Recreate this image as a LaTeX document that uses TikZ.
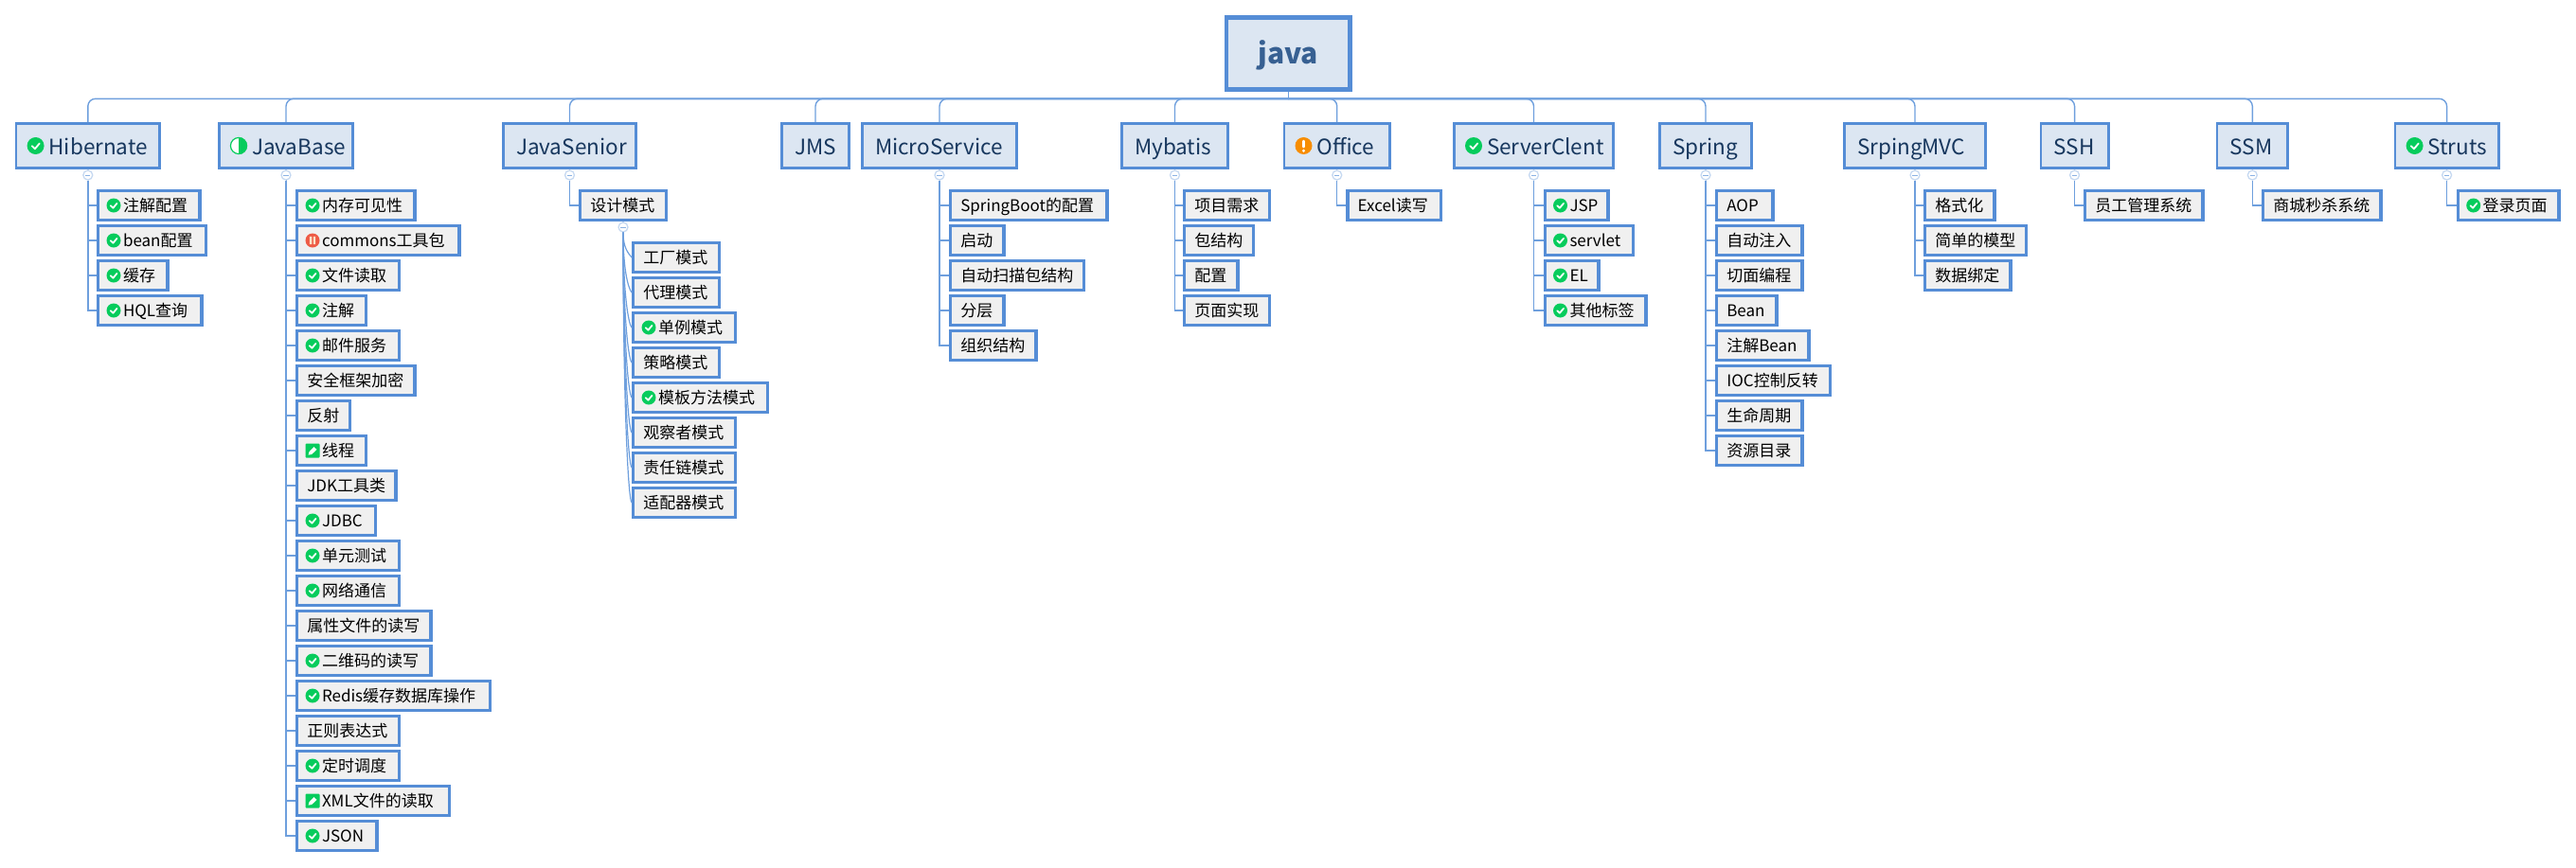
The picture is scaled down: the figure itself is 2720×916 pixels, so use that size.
\documentclass[tikz,border=0pt]{standalone}
\usepackage{fontspec}
\setmainfont{Noto Sans CJK SC}
\usetikzlibrary{calc}
\definecolor{bd}{HTML}{558DD6}
\definecolor{cn}{HTML}{6E9FDD}
\definecolor{tfill}{HTML}{DCE6F2}
\definecolor{sfill}{HTML}{F0F0F0}
\definecolor{ttext}{HTML}{17375E}
\definecolor{rtext}{HTML}{376092}
\definecolor{okg}{HTML}{06CC5C}
\definecolor{foldc}{HTML}{C6D9F1}
\tikzset{
  x=1pt,y=-1pt,
  rootbox/.style={draw=bd,fill=tfill,line width=4.7pt,inner sep=0pt,text=rtext,minimum width=130.3pt,minimum height=76pt,font=\fontsize{30}{36}\selectfont\bfseries,text height=28pt,text depth=6.8pt},
  topbox/.style={draw=bd,fill=tfill,line width=2.8pt,inner sep=0pt,text=ttext,minimum height=47.2pt,font=\fontsize{22.5}{28}\selectfont,text height=22pt,text depth=4pt},
  subbox/.style={draw=bd,fill=sfill,line width=3.3pt,inner sep=0pt,text=black,minimum height=30.7pt,font=\fontsize{17}{20}\selectfont,text height=15pt,text depth=3pt},
  conn/.style={draw=cn,line width=1.4pt},
  fold/.style={circle,draw=foldc,fill=white,line width=1.3pt,inner sep=0pt,minimum size=10pt},
  checkicon/.pic={\fill[okg] (0,0) circle (1);
    \draw[white,line width=1.8pt,line cap=round,line join=round] (-.42,.02) -- (-.08,.36) -- (.46,-.28);},
  pauseicon/.pic={\fill[HTML={EE5A45}] (0,0) circle (1);
    \fill[HTML={FBE3C8}] (-.42,-.55) rectangle (-.1,.55) (.1,-.55) rectangle (.42,.55);},
  penicon/.pic={\fill[okg,rounded corners=1pt] (-1,-1) rectangle (1,1);
    \fill[white] (-.58,.62) -- (-.48,.18) -- (.2,-.52) -- (.6,-.14) -- (-.1,.52) -- cycle;},
  halficon/.pic={\fill[white] (0,0) circle (1);
    \fill[okg] (0,-1) arc (-90:90:1) -- cycle;
    \draw[okg,line width=1.2pt] (0,0) circle (.95);},
  warnicon/.pic={\fill[HTML={F78D00}] (0,0) circle (1);
    \draw[white,line width=2.6pt,line cap=round] (0,-.55) -- (0,.12);
    \fill[white] (0,.58) circle (.18);},
  HTML/.code={\definecolor{tmpc}{HTML}{#1}\pgfkeysalso{color=tmpc}},
}
\newcommand{\tnode}[5]{% name, left, right, icon, text
  \pgfmathsetmacro\bw{#3-#2-2.8}
  \def\tempa{#4}
  \ifx\tempa\empty\def\pad{15}\else\def\pad{36}\fi
  \node[topbox,minimum width=\bw pt] (#1) at ({(#2+#3)/2},154) {\makebox[\bw pt][l]{\hspace{\pad pt}\hspace{-1.4pt}#5}};
  \ifx\tempa\empty\else\pic[scale=9] at ($(#1.west)+(22,0)$) {#4};\fi
  \draw[conn,rounded corners=8pt] (busroot) -| (#1.north);
}
\newcommand{\foldmark}[1]{%
  \node[fold] (#1f) at ($(#1.south)+(0,6)$) {};
  \draw[conn,foldc] (#1.south) -- (#1f.north);
  \draw[cn!80,line width=1pt] ($(#1f.center)+(-2.6,0)$) -- ($(#1f.center)+(2.6,0)$);
}
\newcommand{\snodebox}[6]{% name, left, right, top, icon, text
  \pgfmathsetmacro\bw{#3-#2-3.3}
  \def\tempa{#5}
  \ifx\tempa\empty\def\pad{12.3}\else\def\pad{28}\fi
  \node[subbox,minimum width=\bw pt] (#1) at ({(#2+#3)/2},{#4+17}) {\makebox[\bw pt][l]{\hspace{\pad pt}\hspace{-1.65pt}#6}};
  \ifx\tempa\empty\else\pic[scale=7.5] at ($(#1.west)+(18,0)$) {#5};\fi
}
\newcommand{\snode}[7]{% parent, name, left, right, top, icon, text
  \snodebox{#2}{#3}{#4}{#5}{#6}{#7}
  \draw[conn] (#1f.south) |- (#2.west);
}
\newcommand{\fnode}[7]{% parent, name, left, right, top, icon, text (curved link)
  \snodebox{#2}{#3}{#4}{#5}{#6}{#7}
  \draw[conn,line width=1.2pt] (#1f.south) .. controls ($(#1f.south)!.6!(#1f.south |- #2.west)$) and ($(#2.west)+(-4,-5)$) .. (#2.west);
}
\begin{document}
\begin{tikzpicture}
\useasboundingbox (0,0) rectangle (2720,916);
\node[rootbox] (root) at (1360.2,56.4) {java};
\coordinate (busroot) at (1360.2,104.3);
\draw[conn] (root.south) -- (busroot);

\tnode{hib}{15.6}{170}{checkicon}{Hibernate}
\tnode{jb}{230}{374}{halficon}{JavaBase}
\tnode{js}{530}{673}{}{JavaSenior}
\tnode{jms}{824}{898}{}{JMS}
\tnode{ms}{909}{1075}{}{MicroService}
\tnode{my}{1183}{1298}{}{Mybatis}
\tnode{of}{1354.5}{1469}{warnicon}{Office}
\tnode{sc}{1534}{1705}{checkicon}{ServerClent}
\tnode{sp}{1751}{1851}{}{Spring}
\tnode{mvc}{1946}{2098}{}{SrpingMVC}
\tnode{ssh}{2153.5}{2227.6}{}{SSH}
\tnode{ssm}{2339.6}{2417}{}{SSM}
\tnode{st}{2527.6}{2639.6}{checkicon}{Struts}

\foldmark{hib}\foldmark{jb}\foldmark{js}\foldmark{ms}\foldmark{my}\foldmark{of}\foldmark{sc}\foldmark{sp}\foldmark{mvc}\foldmark{ssh}\foldmark{ssm}\foldmark{st}

\snode{hib}{h1}{102}{212.5}{200}{checkicon}{注解配置}
\snode{hib}{h2}{102}{218.8}{237}{checkicon}{bean配置}
\snode{hib}{h3}{102}{178.6}{274}{checkicon}{缓存}
\snode{hib}{h4}{102}{214.7}{311}{checkicon}{HQL查询}

\snode{jb}{b1}{312}{439.7}{200}{checkicon}{内存可见性}
\snode{jb}{b2}{312}{486.6}{237}{pauseicon}{commons工具包}
\snode{jb}{b3}{312}{422.8}{274}{checkicon}{文件读取}
\snode{jb}{b4}{312}{388.4}{311}{checkicon}{注解}
\snode{jb}{b5}{312}{422.8}{348}{checkicon}{邮件服务}
\snode{jb}{b6}{312}{439.7}{385}{}{安全框架加密}
\snode{jb}{b7}{312}{371.4}{422}{}{反射}
\snode{jb}{b8}{312}{388.4}{459}{penicon}{线程}
\snode{jb}{b9}{312}{419.6}{496}{}{JDK工具类}
\snode{jb}{b10}{312}{397.8}{533}{checkicon}{JDBC}
\snode{jb}{b11}{312}{422.8}{570}{checkicon}{单元测试}
\snode{jb}{b12}{312}{422.8}{607}{checkicon}{网络通信}
\snode{jb}{b13}{312}{456.7}{644}{}{属性文件的读写}
\snode{jb}{b14}{312}{456.7}{681}{checkicon}{二维码的读写}
\snode{jb}{b15}{312}{518.8}{718}{checkicon}{Redis缓存数据库操作}
\snode{jb}{b16}{312}{422.8}{755}{}{正则表达式}
\snode{jb}{b17}{312}{422.8}{792}{checkicon}{定时调度}
\snode{jb}{b18}{312}{476.3}{829}{penicon}{XML文件的读取}
\snode{jb}{b19}{312}{399.6}{866}{checkicon}{JSON}

\snode{js}{d0}{611}{705}{200}{}{设计模式}
\foldmark{d0}
\fnode{d0}{d1}{667}{761}{255}{}{工厂模式}
\fnode{d0}{d2}{667}{761}{292}{}{代理模式}
\fnode{d0}{d3}{667}{778}{329}{checkicon}{单例模式}
\fnode{d0}{d4}{667}{761}{366}{}{策略模式}
\fnode{d0}{d5}{667}{812}{403}{checkicon}{模板方法模式}
\fnode{d0}{d6}{667}{778}{440}{}{观察者模式}
\fnode{d0}{d7}{667}{778}{477}{}{责任链模式}
\fnode{d0}{d8}{667}{778}{514}{}{适配器模式}

\snode{ms}{m1}{1002}{1170.5}{200}{}{SpringBoot的配置}
\snode{ms}{m2}{1002}{1061.6}{237}{}{启动}
\snode{ms}{m3}{1002}{1146.4}{274}{}{自动扫描包结构}
\snode{ms}{m4}{1002}{1061.6}{311}{}{分层}
\snode{ms}{m5}{1002}{1095.5}{348}{}{组织结构}

\snode{my}{y1}{1249}{1342.4}{200}{}{项目需求}
\snode{my}{y2}{1249}{1325.4}{237}{}{包结构}
\snode{my}{y3}{1249}{1308.5}{274}{}{配置}
\snode{my}{y4}{1249}{1342.4}{311}{}{页面实现}

\snode{of}{o1}{1421.4}{1522.8}{200}{}{Excel读写}

\snode{sc}{c1}{1629.5}{1699.5}{200}{checkicon}{JSP}
\snode{sc}{c2}{1629.5}{1726}{237}{checkicon}{servlet}
\snode{sc}{c3}{1629.5}{1689.7}{274}{checkicon}{EL}
\snode{sc}{c4}{1629.5}{1739.7}{311}{checkicon}{其他标签}

\snode{sp}{p1}{1811}{1873.7}{200}{}{AOP}
\snode{sp}{p2}{1811}{1904.5}{237}{}{自动注入}
\snode{sp}{p3}{1811}{1904.5}{274}{}{切面编程}
\snode{sp}{p4}{1811}{1877.7}{311}{}{Bean}
\snode{sp}{p5}{1811}{1911.6}{348}{}{注解Bean}
\snode{sp}{p6}{1811}{1934.4}{385}{}{IOC控制反转}
\snode{sp}{p7}{1811}{1904.5}{422}{}{生命周期}
\snode{sp}{p8}{1811}{1904.5}{459}{}{资源目录}

\snode{mvc}{v1}{2031}{2107.5}{200}{}{格式化}
\snode{mvc}{v2}{2031}{2141.4}{237}{}{简单的模型}
\snode{mvc}{v3}{2031}{2124.5}{274}{}{数据绑定}

\snode{ssh}{s1}{2200}{2327.6}{200}{}{员工管理系统}
\snode{ssm}{s2}{2388}{2515.5}{200}{}{商城秒杀系统}
\snode{st}{s3}{2593.7}{2703.5}{200}{checkicon}{登录页面}
\end{tikzpicture}
\end{document}
